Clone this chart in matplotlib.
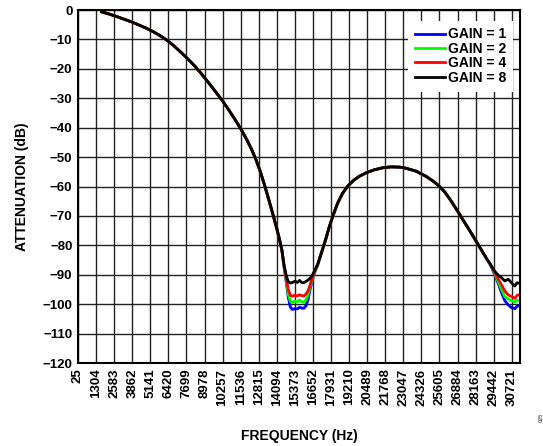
import matplotlib
matplotlib.use("Agg")
import matplotlib.pyplot as plt

plt.rcParams['font.family'] = ['Liberation Sans', 'DejaVu Sans']
plt.rcParams['font.weight'] = 'bold'

# x tick labels (Hz)
tick_hz = [25, 1304, 2583, 3862, 5141, 6420, 7699, 8978, 10257, 11536,
           12815, 14094, 15373, 16652, 17931, 19210, 20489, 21768, 23047,
           24326, 25605, 26884, 28163, 29442, 30721]

# shared part of the response, before the first notch
freq_a = [1700, 2200, 2583, 3000, 3403, 3862, 4300, 4825, 5293, 5800,
          6250, 6800, 7300, 7800, 8300, 8800, 9300, 9800, 10257, 10700,
          11150, 11536, 11950, 12300, 12574, 12900, 13212, 13500, 13850,
          14094, 14275, 14450]
db_a = [-0.6, -1.3, -1.9, -2.6, -3.3, -4.1, -5.0, -6.1, -7.2, -8.6,
        -10.0, -12.1, -14.3, -16.6, -19.1, -21.9, -24.9, -28.0, -30.9, -34.0,
        -37.3, -40.3, -43.9, -47.3, -50.3, -54.5, -59.3, -64.0, -70.0,
        -74.3, -77.8, -81.5]

# first notch, per gain
freq_n1 = [14600, 14750, 14900, 15050, 15200, 15373, 15550, 15700, 15850,
           16000, 16150, 16300, 16450, 16600, 16800, 17000]
n1_gain1 = [-87.2, -92.0, -97.5, -101.0, -101.8, -101.5, -101.6, -101.0,
            -101.3, -101.4, -100.6, -98.5, -95.0, -92.0, -88.9, -86.5]
n1_gain2 = [-87.0, -91.5, -96.5, -99.0, -99.4, -98.9, -99.2, -98.6,
            -99.1, -99.3, -98.5, -96.8, -94.2, -91.5, -88.7, -86.4]
n1_gain4 = [-86.8, -91.0, -95.0, -97.0, -97.3, -96.9, -97.2, -96.8,
            -97.1, -97.2, -96.6, -95.5, -93.5, -91.0, -88.5, -86.3]
n1_gain8 = [-86.5, -90.0, -92.3, -92.8, -92.6, -92.2, -92.6, -91.9,
            -92.6, -92.7, -92.3, -91.8, -91.2, -90.2, -88.3, -86.2]

# shared part between the notches (stop-band lobe)
freq_b = [17200, 17400, 17600, 17821, 18100, 18410, 18750, 19119, 19500,
          19900, 20423, 21000, 21600, 22200, 22800, 23258, 23968, 24677,
          25200, 25620, 26000, 26400, 26800, 27200, 27747, 28100, 28400,
          28700, 29000]
db_b = [-83.3, -80.3, -77.2, -73.5, -69.5, -65.5, -62.3, -59.8, -58.0,
        -56.6, -55.3, -54.3, -53.6, -53.3, -53.4, -53.8, -54.8, -56.6,
        -58.3, -60.0, -62.0, -64.7, -67.7, -70.8, -75.0, -77.8, -80.2,
        -82.6, -85.0]

# second notch, per gain
freq_n2 = [29200, 29400, 29600, 29800, 30000, 30228, 30465, 30703, 30937,
           31100, 31250]
n2_gain1 = [-86.6, -88.7, -91.0, -93.5, -96.2, -98.8, -100.2, -101.2,
            -101.5, -100.7, -100.4]
n2_gain2 = [-86.5, -88.5, -90.5, -92.8, -95.0, -97.4, -98.2, -98.8,
            -99.2, -98.6, -98.8]
n2_gain4 = [-86.4, -88.3, -90.0, -91.8, -93.5, -95.5, -96.8, -97.4,
            -98.0, -97.0, -96.8]
n2_gain8 = [-86.3, -88.0, -89.3, -90.3, -91.0, -92.1, -91.5, -92.7,
            -93.8, -92.7, -92.9]

labels = ["GAIN = 1", "GAIN = 2", "GAIN = 4", "GAIN = 8"]
colors = ["#0000ff", "#00ff00", "#ff0000", "#000000"]
notch1 = [n1_gain1, n1_gain2, n1_gain4, n1_gain8]
notch2 = [n2_gain1, n2_gain2, n2_gain4, n2_gain8]

freq = freq_a + freq_n1 + freq_b + freq_n2

fig = plt.figure(figsize=(5.43, 4.46), dpi=100)
ax = fig.add_axes([0.1436, 0.186, 0.814, 0.7914])

for lab, col, n1, n2 in zip(labels, colors, notch1, notch2):
    db = db_a + n1 + db_b + n2
    ax.plot(freq, db, color=col, lw=2.0, label=lab, solid_joinstyle='round')

ax.set_xlim(25, 31300)
ax.set_ylim(-120, 0)
ax.set_xticks(tick_hz)
ax.set_xticklabels([str(t) for t in tick_hz], rotation=90, fontsize=9.5,
                   fontweight='bold')
ax.set_yticks(range(-120, 1, 10))
ax.set_yticklabels([str(v).replace('-', '\u2212') for v in range(-120, 1, 10)],
                   fontsize=9.5, fontweight='bold')
ax.tick_params(length=0, pad=4)
ax.grid(True, color='#222222', lw=1.0)
ax.set_axisbelow(True)
for s in ax.spines.values():
    s.set_linewidth(1.5)

ax.set_xlabel("FREQUENCY (Hz)", fontsize=10, fontweight='bold', labelpad=17)
ax.set_ylabel("ATTENUATION (dB)", fontsize=10, fontweight='bold', labelpad=10)

leg = ax.legend(loc='upper right', bbox_to_anchor=(1.0, 0.99), fontsize=10,
                frameon=True, fancybox=False, framealpha=1.0,
                edgecolor='none', facecolor='white', handlelength=2.15,
                handletextpad=0.2, labelspacing=0.03, borderpad=0.5,
                borderaxespad=0.5)
for t in leg.get_texts():
    t.set_fontweight('bold')

fig.text(0.993, 0.055, "025", rotation=90, fontsize=4, color='#666666')

fig.savefig("out.png", dpi=100)
